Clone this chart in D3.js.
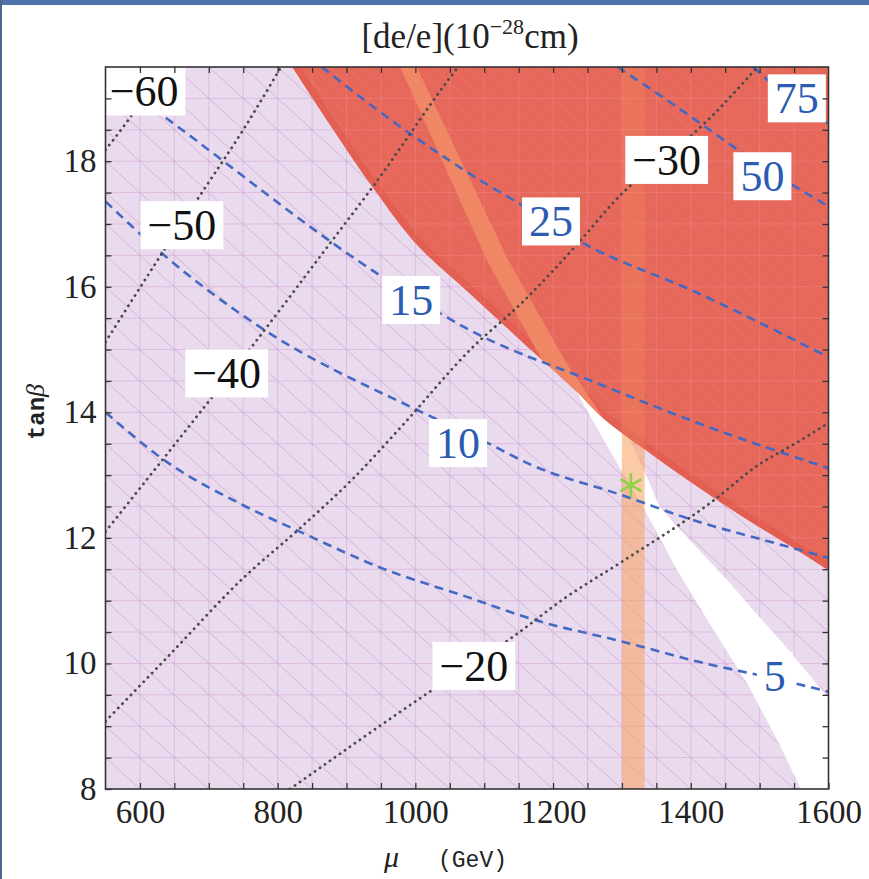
<!DOCTYPE html>
<html>
<head>
<meta charset="utf-8">
<script src="https://cdn.jsdelivr.net/npm/d3@7"></script>
<style>
  html, body { margin: 0; padding: 0; background: #fff; }
  svg { display: block; }
</style>
</head>
<body>
<svg id="chart"></svg>
<script>
// ---- data (mu in GeV, tan beta) ----
const muDomain = [550, 1600];
const tbDomain = [8, 19.5];
const muTickLabels = [600, 800, 1000, 1200, 1400, 1600];
const tbTickLabels = [8, 10, 12, 14, 16, 18];

// excluded (red) region: lower-left boundary
const redBoundary = [[821, 19.5], [880, 18.51], [938, 17.58], [1002, 16.67], [1079, 15.89], [1169, 14.98],
  [1232, 14.35], [1275, 13.88], [1344, 13.32], [1410, 12.81], [1483, 12.28], [1556, 11.79], [1600, 11.48]];

// white wedge (no pink allowed region)
const whiteLeft = [[1212, 14.75], [1293, 13.19], [1336, 12.39], [1380, 11.49], [1435, 10.5],
  [1483, 9.66], [1527, 8.75], [1560, 8]];
const whiteRight = [[1600, 8], [1600, 9.45], [1532, 10.34], [1493, 10.82], [1453, 11.33], [1399, 11.96],
  [1355, 12.49], [1336, 12.97], [1312, 13.55], [1280, 14.0]];

// light orange diagonal band inside the red region
const diagBandLeft = [[978, 19.5], [1104, 16.42], [1184, 14.83], [1232, 14.04], [1245, 13.75]];
const diagBandRight = [[1280, 13.75], [1265, 14.04], [1217, 14.83], [1135, 16.42], [1002, 19.5]];

// vertical orange band
const verticalBand = [1300, 1333];

// best point
const starPoint = [1313, 12.84];

// de contours (blue dashed)
const de5 = [[550, 14.0], [639, 13.21], [750, 12.52], [832, 12.10], [953, 11.51], [1075, 11.06], [1174, 10.69],
  [1300, 10.35], [1410, 10.03], [1541, 9.71], [1600, 9.55]];
const de10 = [[550, 17.36], [629, 16.56], [774, 15.36], [1002, 14.04], [1096, 13.56], [1169, 13.16],
  [1300, 12.68], [1410, 12.26], [1508, 11.96], [1600, 11.68]];
const de15 = [[550, 19.4], [639, 18.68], [953, 16.15], [1079, 15.31], [1265, 14.46], [1410, 13.83], [1600, 13.11]];
const de25 = [[864, 19.5], [992, 18.44], [1079, 17.80], [1159, 17.27], [1236, 16.74], [1410, 15.90], [1600, 14.88]];
const de50 = [[1294, 19.5], [1387, 18.81], [1466, 18.2], [1548, 17.62], [1600, 17.28]];
const de75 = [[1491, 19.5], [1517, 19.24], [1600, 18.6]];

// second contour set (black dotted)
const dm60 = [[550, 18.18], [586, 18.7], [634, 19.5]];
const dm50 = [[550, 15.12], [561, 15.31], [629, 16.48], [687, 17.45], [750, 18.5], [805, 19.5]];
const dm40 = [[550, 12.1], [673, 13.8], [755, 14.94], [876, 16.69], [938, 17.59], [1055, 19.4], [1062, 19.5]];
const dm30 = [[550, 9.08], [639, 10.09], [750, 11.36], [832, 12.15], [910, 12.95], [982, 13.8], [1079, 14.99],
  [1159, 15.79], [1232, 16.64], [1290, 17.37], [1430, 18.71], [1497, 19.5]];
const dm20 = [[818, 8], [1021, 9.55], [1145, 10.45], [1217, 11.04], [1300, 11.62], [1430, 12.57],
  [1498, 13.16], [1556, 13.53], [1600, 13.83]];

const blueCurves = [de5, de10, de15, de25, de50, de75];
const blackCurves = [dm60, dm50, dm40, dm30, dm20];

// contour labels: text, mu, tan beta
const blueLabels = [['75', 1554, 19.0], ['50', 1504, 17.76], ['25', 1197, 17.04], ['15', 994, 15.79],
  ['10', 1062, 13.51], ['5', 1522, 9.8]];
const blackLabels = [['\u221260', 606, 19.11], ['\u221250', 661, 16.98], ['\u221240', 726, 14.62],
  ['\u221230', 1365, 18.02], ['\u221220', 1085, 9.96]];

// ---- setup ----
const width = 869;
const height = 879;
const svg = d3.select('#chart').attr('width', width).attr('height', height);

const x = d3.scaleLinear().domain(muDomain).range([105.5, 828.5]);
const y = d3.scaleLinear().domain(tbDomain).range([789, 67]);
const px = d => [x(d[0]), y(d[1])];

const straight = d3.line().x(d => x(d[0])).y(d => y(d[1]));
const smooth = d3.line().x(d => x(d[0])).y(d => y(d[1])).curve(d3.curveMonotoneX);
const rounded = d3.line().x(d => x(d[0])).y(d => y(d[1])).curve(d3.curveCatmullRom);

// page frame
svg.append('rect').attr('x', 0).attr('y', 0).attr('width', width).attr('height', 5).attr('fill', '#4d73a8');
svg.append('rect').attr('x', 0).attr('y', 0).attr('width', 2).attr('height', height).attr('fill', '#4d6790');

const defs = svg.append('defs');
defs.append('clipPath').attr('id', 'plotClip')
  .append('rect')
  .attr('x', x(muDomain[0])).attr('y', y(tbDomain[1]))
  .attr('width', x(muDomain[1]) - x(muDomain[0]))
  .attr('height', y(tbDomain[0]) - y(tbDomain[1]));

// red region path: smooth boundary closed through the top-right corner
const redPath = rounded(redBoundary) + `L${x(1600)},${y(19.5)}Z`;
defs.append('clipPath').attr('id', 'redClip')
  .append('path').attr('d', redPath);

const plot = svg.append('g').attr('clip-path', 'url(#plotClip)');

// mesh drawing helper (grid + diagonals)
function drawMesh(g, gridColor, diagColor, diagStep, opacity) {
  d3.range(600, 1600, 50).forEach(m => {
    g.append('line')
      .attr('x1', x(m)).attr('x2', x(m)).attr('y1', y(8)).attr('y2', y(19.5))
      .attr('stroke', gridColor).attr('stroke-width', 1).attr('opacity', opacity);
  });
  d3.range(17, 39).map(i => i / 2).forEach(t => {
    g.append('line')
      .attr('x1', x(550)).attr('x2', x(1600)).attr('y1', y(t)).attr('y2', y(t))
      .attr('stroke', gridColor).attr('stroke-width', 1).attr('opacity', opacity);
  });
  for (let c = 8; c <= 19.5 + 10.5 + 0.01; c += diagStep) {
    g.append('line')
      .attr('x1', x(550)).attr('y1', y(c))
      .attr('x2', x(1600)).attr('y2', y(c - 10.5))
      .attr('stroke', diagColor).attr('stroke-width', 1).attr('opacity', opacity);
  }
}

function bandRect(g, opacity) {
  g.append('rect')
    .attr('x', x(verticalBand[0])).attr('y', y(19.5))
    .attr('width', x(verticalBand[1]) - x(verticalBand[0]))
    .attr('height', y(8) - y(19.5))
    .attr('fill', '#f7a15c').attr('opacity', opacity);
}

// pink allowed region
plot.append('rect')
  .attr('x', x(550)).attr('y', y(19.5))
  .attr('width', x(1600) - x(550)).attr('height', y(8) - y(19.5))
  .attr('fill', '#eadaee');
drawMesh(plot.append('g'), '#d9b0db', '#cda2d3', 0.5, 0.7);

// white wedge
plot.append('path')
  .attr('d', straight(whiteLeft.concat(whiteRight)) + 'Z')
  .attr('fill', '#ffffff');

// vertical orange band (strong below the red region)
bandRect(plot, 0.55);

// red excluded region
const redG = plot.append('g').attr('clip-path', 'url(#redClip)');
redG.append('path').attr('d', redPath).attr('fill', '#e6685b');
drawMesh(redG.append('g'), '#f2888a', '#f2777a', 0.25, 0.5);
redG.append('path')
  .attr('d', rounded(redBoundary))
  .attr('fill', 'none').attr('stroke', '#d9483f').attr('stroke-width', 14).attr('opacity', 0.3);

// orange diagonal band
redG.append('path')
  .attr('d', straight(diagBandLeft.concat(diagBandRight)) + 'Z')
  .attr('fill', '#f38e66').attr('opacity', 0.8);

// vertical band shows faintly through the red
bandRect(redG, 0.22);

// contours
blueCurves.forEach(c => {
  plot.append('path').attr('d', smooth(c))
    .attr('fill', 'none').attr('stroke', '#4469c2')
    .attr('stroke-width', 2.6).attr('stroke-dasharray', '9,6');
});
blackCurves.forEach(c => {
  plot.append('path').attr('d', smooth(c))
    .attr('fill', 'none').attr('stroke', '#4a4a4a')
    .attr('stroke-width', 2.8).attr('stroke-linecap', 'round')
    .attr('stroke-dasharray', '0.1,6');
});

// contour labels on white boxes
function drawLabel(lbl, color) {
  const g = plot.append('g');
  const t = g.append('text')
    .attr('x', x(lbl[1])).attr('y', y(lbl[2]))
    .attr('text-anchor', 'middle').attr('dy', '0.34em')
    .attr('font-family', '"Liberation Serif", "DejaVu Serif", serif')
    .attr('font-size', 44).attr('fill', color)
    .text(lbl[0]);
  const b = t.node().getBBox();
  g.insert('rect', 'text')
    .attr('x', b.x - 7).attr('y', y(lbl[2]) - 24)
    .attr('width', b.width + 14).attr('height', 48)
    .attr('fill', '#fff');
}
blueLabels.forEach(l => drawLabel(l, '#2c5cb2'));
blackLabels.forEach(l => drawLabel(l, '#111'));

// best fit star
plot.append('path')
  .attr('transform', `translate(${px(starPoint)})`)
  .attr('d', d3.symbol(d3.symbolAsterisk).size(420)())
  .attr('fill', 'none').attr('stroke', '#8ed24c').attr('stroke-width', 2.6);

// ---- axes ----
const tickFont = '"Liberation Serif", "DejaVu Serif", serif';
const minorMu = d3.range(600, 1600, 50);
const minorTb = d3.range(17, 39).map(i => i / 2);

function styleAxis(g) {
  g.select('.domain').remove();
  g.selectAll('.tick line').attr('stroke', '#333').attr('stroke-width', 1.3);
  g.selectAll('.tick text').attr('font-family', tickFont).attr('font-size', 33).attr('fill', '#222');
}

svg.append('g').attr('transform', `translate(0,${y(8)})`)
  .call(d3.axisBottom(x).tickValues(minorMu.concat([1600])).tickSize(-6).tickPadding(11)
    .tickFormat(d => muTickLabels.includes(d) ? d : ''))
  .call(styleAxis);
svg.append('g').attr('transform', `translate(0,${y(19.5)})`)
  .call(d3.axisTop(x).tickValues(minorMu).tickSize(-6).tickFormat(''))
  .call(styleAxis);
svg.append('g').attr('transform', `translate(${x(550)},0)`)
  .call(d3.axisLeft(y).tickValues([8].concat(minorTb)).tickSize(-6).tickPadding(9)
    .tickFormat(d => tbTickLabels.includes(d) ? d : ''))
  .call(styleAxis);
svg.append('g').attr('transform', `translate(${x(1600)},0)`)
  .call(d3.axisRight(y).tickValues(minorTb).tickSize(-6).tickFormat(''))
  .call(styleAxis);

// plot frame
svg.append('rect')
  .attr('x', x(550)).attr('y', y(19.5))
  .attr('width', x(1600) - x(550)).attr('height', y(8) - y(19.5))
  .attr('fill', 'none').attr('stroke', '#333').attr('stroke-width', 1.6);

// title
const title = svg.append('text')
  .attr('x', 470).attr('y', 48).attr('text-anchor', 'middle')
  .attr('font-family', tickFont).attr('font-size', 35).attr('fill', '#222');
title.append('tspan').text('[de/e](10');
title.append('tspan').attr('font-size', 22).attr('dy', -14).text('\u221228');
title.append('tspan').attr('dy', 14).text('cm)');

// x label
const xl = svg.append('text').attr('x', 384).attr('y', 867).attr('fill', '#222');
xl.append('tspan').attr('font-family', tickFont).attr('font-style', 'italic').attr('font-size', 30).text('\u03bc');
xl.append('tspan').attr('x', 438).attr('font-family', '"Liberation Mono", "DejaVu Sans Mono", monospace')
  .attr('font-size', 23).text('(GeV)');

// y label
const yl = svg.append('text')
  .attr('transform', 'translate(44,412) rotate(-90)')
  .attr('text-anchor', 'middle').attr('fill', '#222');
yl.append('tspan').attr('font-family', '"Liberation Mono", "DejaVu Sans Mono", monospace')
  .attr('font-size', 24).attr('font-weight', 'bold').text('tan');
yl.append('tspan').attr('font-family', tickFont).attr('font-style', 'italic').attr('font-size', 26).text('\u03b2');
</script>
</body>
</html>
